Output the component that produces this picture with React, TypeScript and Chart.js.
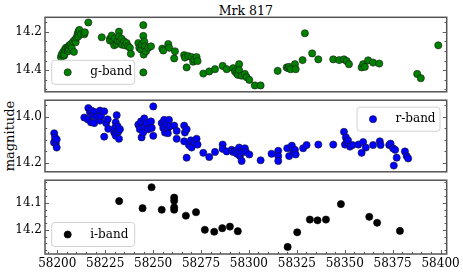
import React, { useEffect, useRef } from "react";
import { Chart, registerables } from "chart.js";
Chart.register(...registerables);

const TITLE = "Mrk 817";
const Y_LABEL = "magnitude";
const X_MIN = 58193.6;
const X_MAX = 58403.2;
const X_TICKS = [58200, 58225, 58250, 58275, 58300, 58325, 58350, 58375, 58400];

const G_TICKS = [14.2, 14.4];
const R_TICKS = [14.0, 14.2];
const I_TICKS = [14.1, 14.2];

const gMjd = [
  58201.9, 58202.3, 58203.1, 58203.5, 58203.7, 58204.0, 58204.5, 58205.4, 58205.7, 58206.0, 58206.3, 58207.1,
  58207.5, 58208.3, 58208.7, 58209.2, 58209.6, 58210.1, 58210.6, 58210.9, 58211.0, 58211.5, 58212.4, 58214.1,
  58214.4, 58216.2,
  58223.2, 58227.5, 58227.5, 58228.4, 58229.2, 58229.7, 58230.1, 58231.0, 58231.5, 58232.2, 58232.2, 58232.7,
  58233.6, 58233.9, 58234.9, 58235.3, 58236.2, 58237.0, 58237.9, 58238.4,
  58242.3, 58242.8, 58243.7, 58244.0, 58244.9, 58244.9, 58244.9, 58245.1, 58245.4, 58245.7, 58246.3, 58247.5,
  58248.9,
  58254.8, 58255.3, 58257.9, 58258.4, 58261.4, 58261.0, 58266.2, 58266.6, 58267.5, 58268.3, 58270.1, 58270.9,
  58271.5, 58272.7, 58273.2, 58276.2, 58279.3, 58282.3, 58286.3, 58288.4, 58291.8, 58292.7, 58293.6, 58294.3,
  58294.9, 58294.9, 58296.2, 58297.9, 58298.8, 58300.2, 58303.1, 58306.1, 58315.0, 58319.7, 58320.5, 58321.0,
  58321.8, 58324.0, 58324.4, 58328.0, 58329.2, 58333.0, 58336.2, 58344.0, 58347.1, 58349.6, 58351.0, 58352.2,
  58358.8, 58359.6, 58360.5, 58362.2, 58364.8, 58368.0, 58387.8, 58389.7, 58398.8,
];
const gMag = [
  14.332, 14.319, 14.305, 14.325, 14.319, 14.293, 14.284, 14.281, 14.302, 14.29, 14.271, 14.264,
  14.284, 14.251, 14.305, 14.242, 14.255, 14.231, 14.213, 14.225, 14.2, 14.191, 14.213, 14.213,
  14.203, 14.152,
  14.229, 14.237, 14.246, 14.22, 14.251, 14.271, 14.234, 14.264, 14.247, 14.2, 14.225, 14.251,
  14.237, 14.268, 14.251, 14.271, 14.259, 14.276, 14.284, 14.315,
  14.259, 14.284, 14.293, 14.268, 14.166, 14.222, 14.412, 14.319, 14.251, 14.276, 14.302, 14.284,
  14.276,
  14.288, 14.298, 14.264, 14.284, 14.302, 14.339, 14.322, 14.335, 14.386, 14.327, 14.332, 14.356,
  14.344, 14.332, 14.353, 14.418, 14.407, 14.395, 14.378, 14.395, 14.39, 14.407, 14.417, 14.425,
  14.369, 14.4, 14.429, 14.42, 14.437, 14.451, 14.48, 14.48, 14.404, 14.386, 14.39, 14.383,
  14.395, 14.369, 14.395, 14.348, 14.208, 14.313, 14.344, 14.344, 14.348, 14.344, 14.353, 14.369,
  14.386, 14.369, 14.383, 14.349, 14.361, 14.366, 14.42, 14.442, 14.271,
];

const rMjd = [
  58198.3, 58198.4, 58198.8, 58199.2, 58199.7, 58199.7,
  58214.1, 58215.9, 58216.2, 58217.1, 58217.6, 58217.9, 58218.8, 58219.3, 58219.7, 58220.6, 58222.3, 58222.3,
  58222.8, 58224.5, 58224.5, 58225.5, 58226.3, 58226.6, 58229.7, 58230.1, 58230.5, 58230.5, 58231.0, 58231.5,
  58231.8, 58232.2, 58232.7,
  58242.3, 58243.1, 58243.7, 58244.0, 58244.8, 58245.4, 58245.7, 58246.5, 58247.5, 58248.9, 58249.3, 58250.1,
  58250.1,
  58254.5, 58255.3, 58255.8, 58256.2, 58256.9, 58257.5, 58257.7, 58258.3, 58258.8, 58261.0, 58262.3, 58262.3,
  58266.2, 58266.2, 58266.6, 58267.5, 58267.5, 58268.7, 58269.7, 58270.1, 58271.5, 58272.7, 58273.2,
  58276.2, 58279.3, 58282.3, 58286.3, 58286.3, 58288.4, 58291.0, 58291.8, 58293.2, 58293.9, 58294.9, 58295.3,
  58296.2, 58296.2, 58297.9, 58298.4, 58300.2, 58306.1, 58311.8, 58315.3, 58315.3, 58315.3, 58320.0, 58321.0,
  58322.4, 58323.2, 58324.0, 58324.4, 58328.3, 58330.1, 58336.2, 58344.0,
  58349.6, 58350.1, 58350.6, 58351.0, 58351.7, 58352.7, 58354.0, 58357.1, 58358.8, 58359.6, 58361.0, 58364.8,
  58368.3, 58368.7, 58373.2, 58373.9, 58375.2, 58376.3, 58377.1, 58375.6, 58381.4, 58382.3, 58383.1,
];
const rMag = [
  14.111, 14.071, 14.089, 14.116, 14.098, 14.133,
  14.003, 14.011, 13.962, 13.98, 14.024, 13.973, 13.993, 14.027, 13.98, 14.0, 13.973, 14.016,
  13.997, 13.976, 14.086, 14.027, 14.011, 14.052, 14.068, 14.048, 14.024, 14.082, 13.993, 14.041,
  14.065, 14.095, 14.054,
  14.034, 14.054, 14.02, 14.089, 14.068, 14.007, 14.041, 14.027, 14.054, 14.02, 14.048, 13.955,
  14.082,
  14.027, 14.048, 14.013, 14.068, 14.034, 14.054, 14.071, 14.013, 14.041, 14.038, 14.061, 14.095,
  14.038, 14.106, 14.068, 14.054, 14.177, 14.122, 14.102, 14.133, 14.109, 14.095, 14.12,
  14.156, 14.174, 14.152, 14.12, 14.139, 14.15, 14.143, 14.152, 14.147, 14.16, 14.133, 14.17,
  14.152, 14.191, 14.136, 14.152, 14.163, 14.188, 14.16, 14.147, 14.17, 14.191, 14.136, 14.17,
  14.125, 14.152, 14.143, 14.163, 14.136, 14.122, 14.12, 14.12,
  14.065, 14.12, 14.089, 14.109, 14.102, 14.129, 14.122, 14.12, 14.156, 14.109, 14.133, 14.122,
  14.106, 14.122, 14.122, 14.116, 14.136, 14.143, 14.177, 14.211, 14.15, 14.17, 14.18,
];

const iMjd = [
  58232.3, 58244.5, 58249.2, 58254.5, 58261.0, 58261.0, 58261.0, 58261.0, 58267.1, 58272.4, 58277.0, 58281.9,
  58286.1, 58290.1, 58294.2, 58320.2, 58325.2, 58331.8, 58335.8, 58340.2, 58348.0, 58362.8, 58366.9, 58378.8,
];
const iMag = [
  14.094, 14.12, 14.043, 14.126, 14.081, 14.093, 14.117, 14.126, 14.148, 14.135, 14.2, 14.207,
  14.194, 14.188, 14.205, 14.263, 14.209, 14.162, 14.165, 14.162, 14.105, 14.152, 14.174, 14.204,
];

const FONT = "'DejaVu Serif', serif";
const R = 3.6;

type PanelCfg = {
  mjd: number[];
  mag: number[];
  color: string;
  edge: string;
  label: string;
  yMin: number;
  yMax: number;
  yTicks: number[];
  minorStep: number;
  legendCorner: "ll" | "ur";
  showX: boolean;
  padTop: number;
  padBottom: number;
};

function makeChart(canvas: HTMLCanvasElement, cfg: PanelCfg) {
  const pts = cfg.mjd.map((x, i) => ({ x, y: cfg.mag[i] }));
  const decor = {
    id: "decor",
    afterDatasetsDraw(chart: any) {
      const { ctx, chartArea: a, scales } = chart;
      const ys = scales.y;
      const xs = scales.x;
      ctx.save();
      ctx.strokeStyle = "#333";
      ctx.lineWidth = 0.8;
      const tickY = (v: number, len: number) => {
        const p = Math.round(ys.getPixelForValue(v)) + 0.5;
        ctx.beginPath();
        ctx.moveTo(a.left, p);
        ctx.lineTo(a.left + len, p);
        ctx.moveTo(a.right, p);
        ctx.lineTo(a.right - len, p);
        ctx.stroke();
      };
      const lo = Math.min(cfg.yMin, cfg.yMax);
      const hi = Math.max(cfg.yMin, cfg.yMax);
      for (let k = Math.ceil(lo / cfg.minorStep - 1e-6); k * cfg.minorStep <= hi + 1e-9; k++) {
        const v = k * cfg.minorStep;
        const major = cfg.yTicks.some((t) => Math.abs(t - v) < 1e-6);
        tickY(v, major ? 4 : 2.2);
      }
      if (cfg.showX) {
        for (let v = 58195; v <= 58403; v += 5) {
          const major = v % 25 === 0;
          const p = Math.round(xs.getPixelForValue(v)) + 0.5;
          ctx.beginPath();
          ctx.moveTo(p, a.bottom);
          ctx.lineTo(p, a.bottom - (major ? 4 : 2.2));
          ctx.stroke();
        }
      }
      ctx.strokeStyle = "#555";
      ctx.lineWidth = 1.5;
      ctx.strokeRect(a.left, a.top, a.right - a.left, a.bottom - a.top);
      const w = 83;
      const h = 24;
      const lx = cfg.legendCorner === "ll" ? a.left + 6.7 : a.right - 6.7 - w;
      const ly = cfg.legendCorner === "ll" ? a.bottom - 7.5 - h : a.top + 7;
      const r = 3;
      ctx.beginPath();
      ctx.moveTo(lx + r, ly);
      ctx.lineTo(lx + w - r, ly);
      ctx.quadraticCurveTo(lx + w, ly, lx + w, ly + r);
      ctx.lineTo(lx + w, ly + h - r);
      ctx.quadraticCurveTo(lx + w, ly + h, lx + w - r, ly + h);
      ctx.lineTo(lx + r, ly + h);
      ctx.quadraticCurveTo(lx, ly + h, lx, ly + h - r);
      ctx.lineTo(lx, ly + r);
      ctx.quadraticCurveTo(lx, ly, lx + r, ly);
      ctx.closePath();
      ctx.fillStyle = "rgba(255,255,255,0.8)";
      ctx.fill();
      ctx.strokeStyle = "rgba(204,204,204,0.9)";
      ctx.lineWidth = 1;
      ctx.stroke();
      ctx.beginPath();
      ctx.arc(lx + 16, ly + h / 2, R, 0, Math.PI * 2);
      ctx.fillStyle = cfg.color;
      ctx.fill();
      ctx.strokeStyle = cfg.edge;
      ctx.lineWidth = 0.6;
      ctx.stroke();
      ctx.fillStyle = "#000";
      ctx.font = `12px ${FONT}`;
      ctx.textBaseline = "middle";
      ctx.textAlign = "left";
      ctx.fillText(cfg.label, lx + 38.5, ly + h / 2);
      ctx.restore();
    },
  };

  return new Chart(canvas, {
    type: "scatter",
    data: {
      datasets: [
        {
          label: cfg.label,
          data: pts,
          backgroundColor: cfg.color,
          borderColor: cfg.edge,
          borderWidth: 0.6,
          pointRadius: R,
          pointHoverRadius: R,
        },
      ],
    },
    options: {
      animation: false,
      responsive: false,
      maintainAspectRatio: false,
      events: [],
      layout: { padding: { top: cfg.padTop, bottom: cfg.padBottom, left: 0, right: 16.3 } },
      plugins: { legend: { display: false }, tooltip: { enabled: false }, title: { display: false } },
      scales: {
        x: {
          type: "linear",
          min: X_MIN,
          max: X_MAX,
          display: cfg.showX,
          grid: { display: false, drawTicks: false },
          border: { display: false },
          ticks: {
            padding: 3,
            color: "#000",
            font: { family: FONT, size: 12 },
            maxRotation: 0,
            autoSkip: false,
            callback: (v: any) => String(Math.round(Number(v))),
          },
          afterBuildTicks: (s: any) => {
            s.ticks = X_TICKS.map((v) => ({ value: v }));
          },
          afterFit: (s: any) => {
            s.height = cfg.showX ? 19 : 0;
            s.paddingLeft = 0;
            s.paddingRight = 0;
            s.paddingTop = 0;
            s.paddingBottom = 0;
          },
        },
        y: {
          type: "linear",
          reverse: true,
          min: cfg.yMin,
          max: cfg.yMax,
          grid: { display: false, drawTicks: false },
          border: { display: false },
          ticks: {
            padding: 3,
            color: "#000",
            font: { family: FONT, size: 12 },
            callback: (v: any) => Number(v).toFixed(1),
          },
          afterBuildTicks: (s: any) => {
            s.ticks = cfg.yTicks.map((v) => ({ value: v }));
          },
          afterFit: (s: any) => {
            s.width = 45;
            s.paddingTop = 0;
            s.paddingBottom = 0;
            s.paddingLeft = 0;
            s.paddingRight = 0;
          },
        },
      },
    } as any,
    plugins: [decor],
  });
}

export default function App() {
  const c1 = useRef<HTMLCanvasElement>(null);
  const c2 = useRef<HTMLCanvasElement>(null);
  const c3 = useRef<HTMLCanvasElement>(null);

  useEffect(() => {
    const charts = [
      makeChart(c1.current!, {
        mjd: gMjd, mag: gMag, color: "#008000", edge: "#1a1a1a", label: "g-band",
        yMin: 14.125, yMax: 14.513, yTicks: G_TICKS, minorStep: 0.05, legendCorner: "ll",
        showX: false, padTop: 7.3, padBottom: 2.7,
      }),
      makeChart(c2.current!, {
        mjd: rMjd, mag: rMag, color: "#0000ff", edge: "#1a1a1a", label: "r-band",
        yMin: 13.928, yMax: 14.238, yTicks: R_TICKS, minorStep: 0.05, legendCorner: "ur",
        showX: false, padTop: 1.3, padBottom: 2.7,
      }),
      makeChart(c3.current!, {
        mjd: iMjd, mag: iMag, color: "#000000", edge: "#000000", label: "i-band",
        yMin: 14.017, yMax: 14.289, yTicks: I_TICKS, minorStep: 0.025, legendCorner: "ll",
        showX: true, padTop: 1.7, padBottom: 0,
      }),
    ];
    return () => charts.forEach((c) => c.destroy());
  }, []);

  const abs = (top: number): React.CSSProperties => ({ position: "absolute", left: 0, top, display: "block" });

  return (
    <div style={{ position: "fixed", left: 0, top: 0, width: 463, height: 273, background: "#fff", overflow: "hidden" }}>
      <div
        style={{
          position: "absolute", left: 45, width: 401.7, top: 4, textAlign: "center",
          fontFamily: FONT, fontSize: 12.5, lineHeight: "14px", color: "#000",
        }}
      >
        {TITLE}
      </div>
      <div
        style={{
          position: "absolute", left: -50, top: 128, width: 120, height: 16, textAlign: "center",
          fontFamily: FONT, fontSize: 13, lineHeight: "16px", color: "#000",
          transform: "rotate(-90deg)", transformOrigin: "50% 50%",
        }}
      >
        {Y_LABEL}
      </div>
      <canvas ref={c1} width={463} height={86} style={abs(10)} />
      <canvas ref={c2} width={463} height={80} style={abs(96)} />
      <canvas ref={c3} width={463} height={97} style={abs(176)} />
    </div>
  );
}
